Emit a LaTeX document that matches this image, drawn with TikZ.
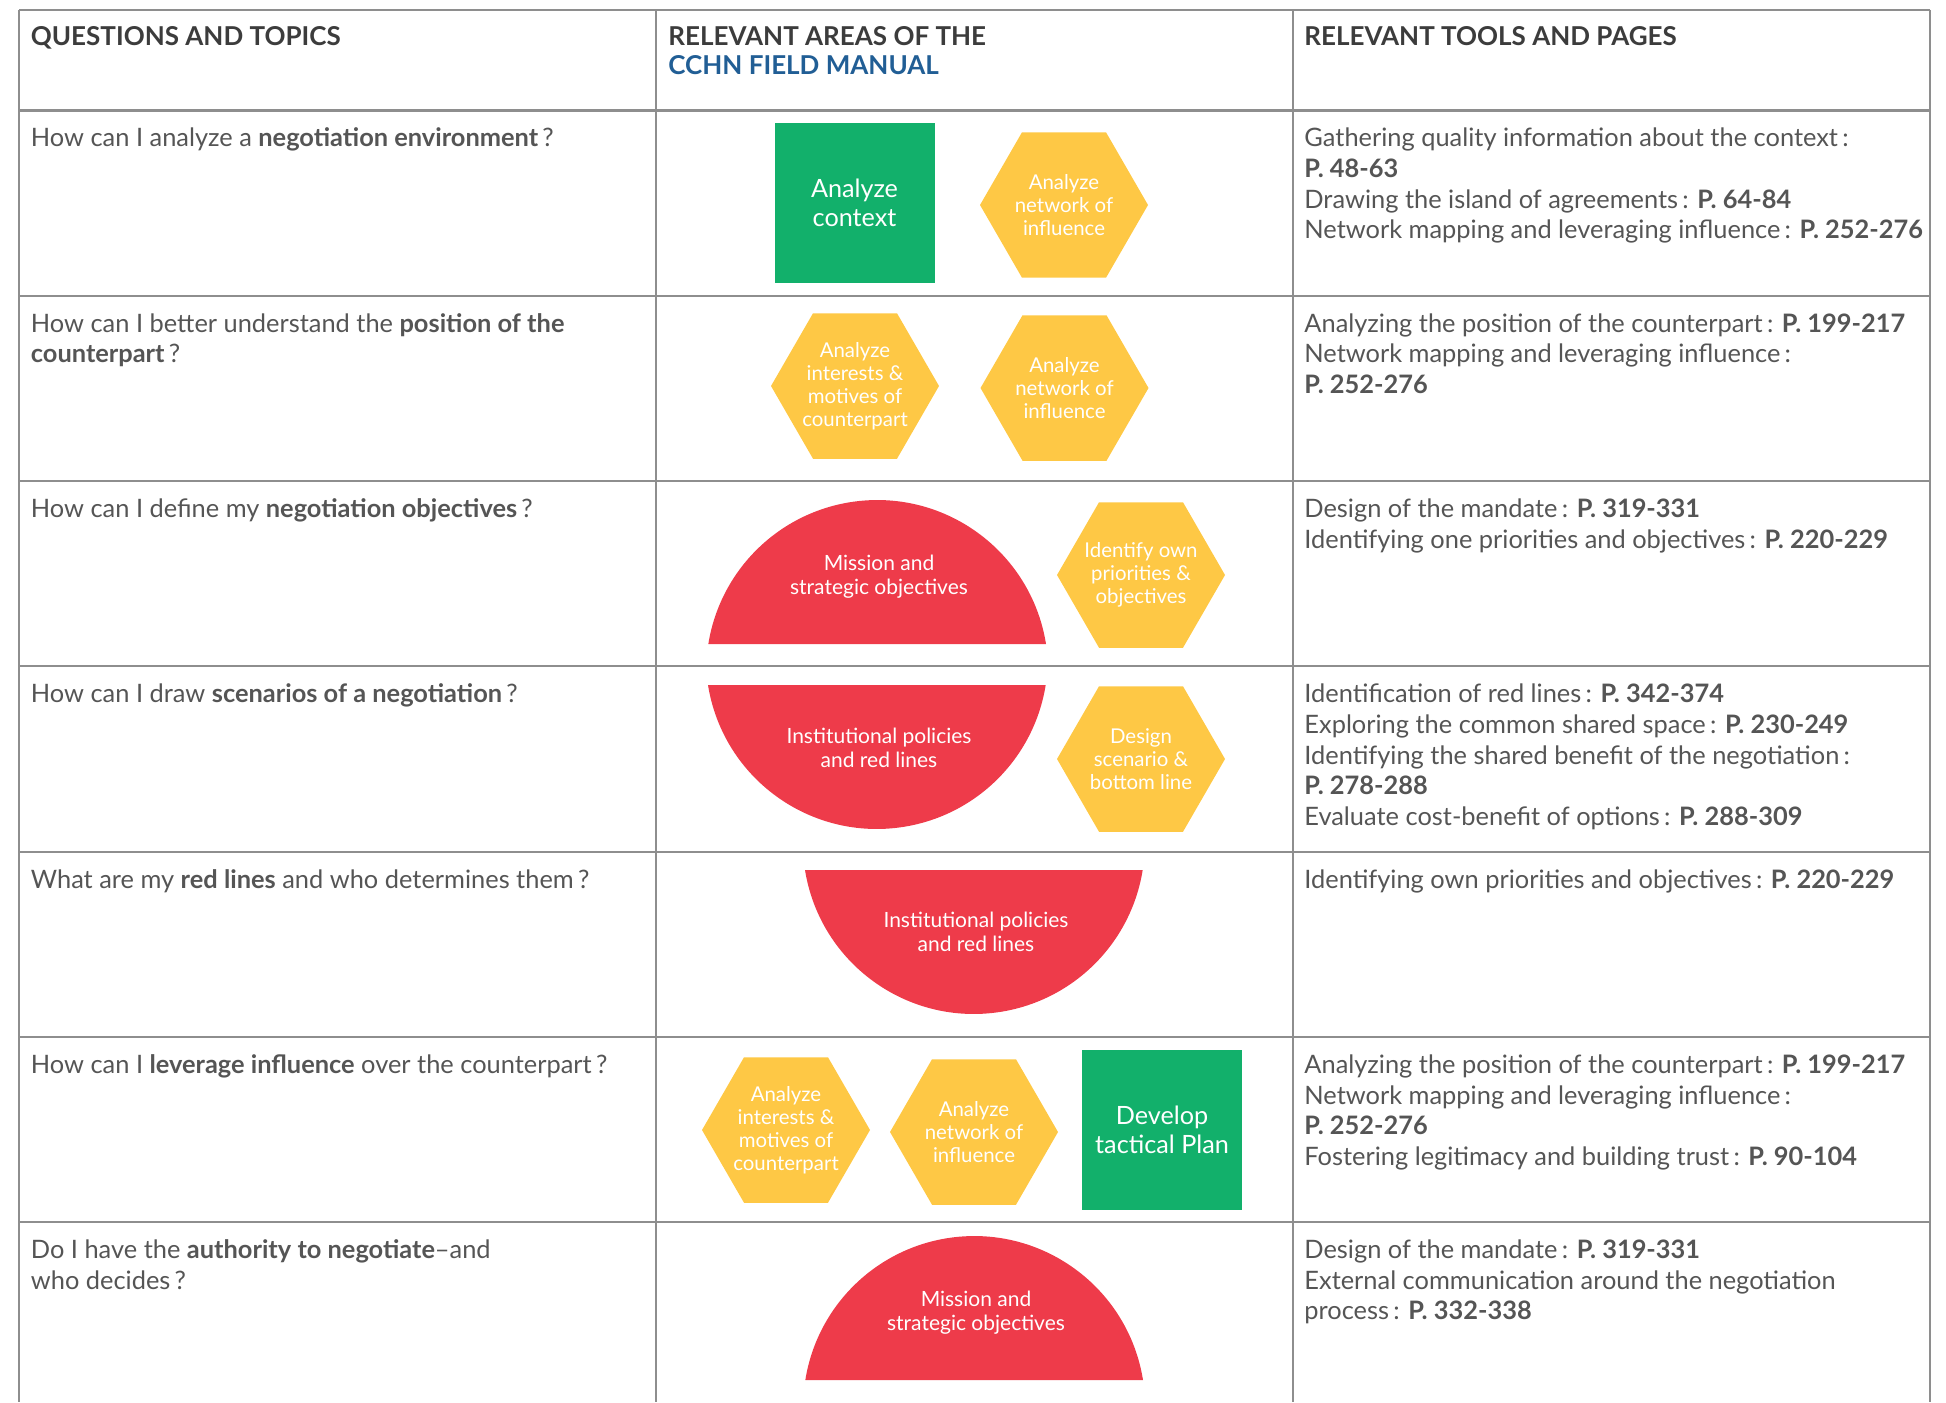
\documentclass[tikz,border=0pt]{standalone}
\usepackage{fontspec}
\setmainfont{Lato}
\usetikzlibrary{shapes}
\definecolor{manualgreen}{HTML}{12B06B}
\definecolor{manualyellow}{HTML}{FEC845}
\definecolor{manualred}{HTML}{EE3B4A}
\definecolor{manualblue}{HTML}{215E95}
\definecolor{rulegray}{HTML}{8E8E8E}
\definecolor{textgray}{HTML}{555555}
\definecolor{headgray}{HTML}{3C3C3C}

\tikzset{
  rule/.style={draw=rulegray, line width=1pt},
  qtext/.style={anchor=north west, inner sep=0pt, align=left, text=textgray,
    font=\fontsize{12.7}{15.3}\selectfont},
  headtext/.style={anchor=north west, inner sep=0pt, align=left, text=headgray,
    font=\fontsize{13}{14.5}\selectfont\bfseries},
  hexa/.style={regular polygon, regular polygon sides=6, minimum size=84pt,
    inner sep=0pt, fill=manualyellow},
  hexlabel/.style={inner sep=0pt, text=white, align=center,
    font=\fontsize{10.2}{11.5}\selectfont},
  sqbox/.style={minimum size=80pt, inner sep=0pt, fill=manualgreen, text=white,
    align=center, font=\fontsize{12.6}{14.2}\selectfont},
  redtext/.style={inner sep=0pt, text=white, align=center,
    font=\fontsize{10.5}{12}\selectfont},
}

\begin{document}
\begin{tikzpicture}[x=.5pt,y=.5pt]
\useasboundingbox (0,0) rectangle (1946,-1402);
% the table
\draw[rule] (19,-10) -- (1930,-10);
\draw[rule] (19,-110.5) -- (1930,-110.5);
\draw[rule] (19,-295.8) -- (1930,-295.8);
\draw[rule] (19,-481.1) -- (1930,-481.1);
\draw[rule] (19,-666.4) -- (1930,-666.4);
\draw[rule] (19,-851.7) -- (1930,-851.7);
\draw[rule] (19,-1037) -- (1930,-1037);
\draw[rule] (19,-1222.3) -- (1930,-1222.3);
\draw[rule] (19,-10) -- (19,-1402);
\draw[rule] (656,-10) -- (656,-1402);
\draw[rule] (1293,-10) -- (1293,-1402);
\draw[rule] (1930,-10) -- (1930,-1402);

% The heading
\node[headtext] (h1) at (30.5,-24.7) {\strut QUESTIONS AND TOPICS};
\node[headtext] (h2) at (668,-24.7) {\strut RELEVANT AREAS OF THE\\
  \textcolor{manualblue}{CCHN FIELD MANUAL}};
\node[headtext] (h3) at (1304,-24.7) {\strut RELEVANT TOOLS AND PAGES};

% The red shapes
\begin{scope}[manualred]
\fill (1046,-644) arc[start angle=9.1, end angle=170.9, radius=171] -- cycle;
\fill (708,-685) arc[start angle=189.1, end angle=350.9, radius=171] -- cycle;
\fill (805,-870) arc[start angle=189.1, end angle=350.9, radius=171] -- cycle;
\fill (1143,-1380) arc[start angle=9.1, end angle=170.9, radius=171] -- cycle;
\end{scope}
\node[redtext] (mission1) at (879,-577) {Mission and\\strategic objectives};
\node[redtext] (policies1) at (879,-748) {Institutional policies\\and red lines};
\node[redtext] (policies2) at (976,-932) {Institutional policies\\and red lines};
\node[redtext] (mission2) at (976,-1313) {Mission and\\strategic objectives};

% The green boxes
\node[sqbox] (context) at (854.5,-203) {Analyze\\context};
\node[sqbox] (tactical) at (1162,-1130) {Develop\\tactical Plan};

% The hexagons
\node[hexa, label={[hexlabel]center:Analyze\\network of\\influence}] (network1) at (1064,-205) {};
\node[hexa, label={[hexlabel]center:Analyze\\interests \&\\motives of\\counterpart}] (interests1) at (855,-386) {};
\node[hexa, label={[hexlabel]center:Analyze\\network of\\influence}] (network2) at (1064.5,-388) {};
\node[hexa, label={[hexlabel]center:Identify own\\priorities \&\\objectives}] (priorities) at (1141,-575) {};
\node[hexa, label={[hexlabel]center:Design\\scenario \&\\bottom line}] (scenario) at (1141,-759) {};
\node[hexa, label={[hexlabel]center:Analyze\\interests \&\\motives of\\counterpart}] (interests2) at (786,-1130) {};
\node[hexa, label={[hexlabel]center:Analyze\\network of\\influence}] (network3) at (974,-1132) {};

% Questions
\node[qtext] (q1) at (30.5,-125) {\strut How can I analyze a \textbf{negotiation environment}\,?};
\node[qtext] (q2) at (30.5,-310.4) {\strut How can I better understand the \textbf{position of the}\\
  \textbf{counterpart}\,?};
\node[qtext] (q3) at (30.5,-495.7) {\strut How can I define my \textbf{negotiation objectives}\,?};
\node[qtext] (q4) at (30.5,-681) {\strut How can I draw \textbf{scenarios of a negotiation}\,?};
\node[qtext] (q5) at (30.5,-866.3) {\strut What are my \textbf{red lines} and who determines them\,?};
\node[qtext] (q6) at (30.5,-1051.6) {\strut How can I \textbf{leverage influence} over the counterpart\,?};
\node[qtext] (q7) at (30.5,-1236.9) {\strut Do I have the \textbf{authority to negotiate}--and\\
  who decides\,?};

% Tools and pages
\node[qtext] (t1) at (1304,-125) {\strut Gathering quality information about the context\,:\\
  \textbf{P. 48-63}\\
  Drawing the island of agreements\,: \textbf{P. 64-84}\\
  Network mapping and leveraging influence\,: \textbf{P. 252-276}};
\node[qtext] (t2) at (1304,-310.4) {\strut Analyzing the position of the counterpart\,: \textbf{P. 199-217}\\
  Network mapping and leveraging influence\,:\\
  \textbf{P. 252-276}};
\node[qtext] (t3) at (1304,-495.7) {\strut Design of the mandate\,: \textbf{P. 319-331}\\
  Identifying one priorities and objectives\,: \textbf{P. 220-229}};
\node[qtext] (t4) at (1304,-681) {\strut Identification of red lines\,: \textbf{P. 342-374}\\
  Exploring the common shared space\,: \textbf{P. 230-249}\\
  Identifying the shared benefit of the negotiation\,:\\
  \textbf{P. 278-288}\\
  Evaluate cost-benefit of options\,: \textbf{P. 288-309}};
\node[qtext] (t5) at (1304,-866.3) {\strut Identifying own priorities and objectives\,: \textbf{P. 220-229}};
\node[qtext] (t6) at (1304,-1051.6) {\strut Analyzing the position of the counterpart\,: \textbf{P. 199-217}\\
  Network mapping and leveraging influence\,:\\
  \textbf{P. 252-276}\\
  Fostering legitimacy and building trust\,: \textbf{P. 90-104}};
\node[qtext] (t7) at (1304,-1236.9) {\strut Design of the mandate\,: \textbf{P. 319-331}\\
  External communication around the negotiation\\
  process\,: \textbf{P. 332-338}};
\end{tikzpicture}
\end{document}
